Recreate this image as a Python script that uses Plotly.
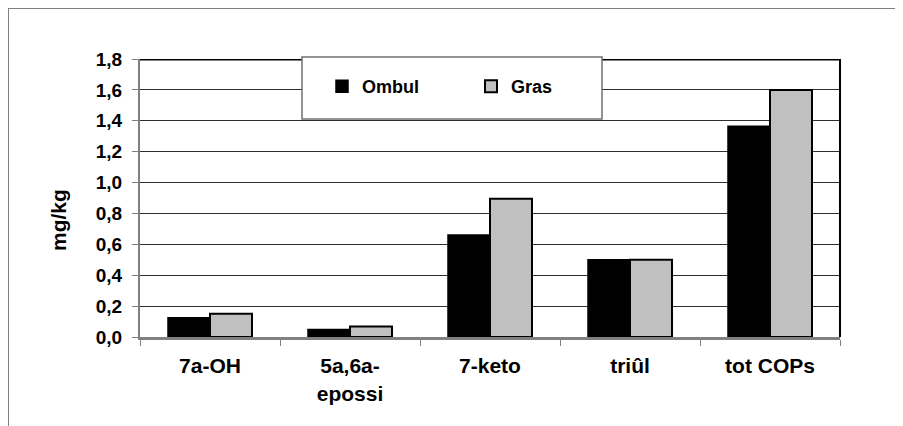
import plotly.graph_objects as go

categories = ["7a-OH", "5a,6a-<br>epossi", "7-keto", "triûl", "tot COPs"]
ombul = [0.124, 0.048, 0.66, 0.50, 1.365]
gras = [0.15, 0.068, 0.895, 0.50, 1.60]
y_ticks = [0.0, 0.2, 0.4, 0.6, 0.8, 1.0, 1.2, 1.4, 1.6, 1.8]

FONT = "Arial, Liberation Sans, sans-serif"

# page body has an 8px margin, so the figure is a bit smaller than the window
W, H = 895, 418
L, R, T, B = 132, 63, 51, 89
PW, PH = W - L - R, H - T - B


def px_x(x):
    return (x - L) / PW


def px_y(y):
    return (T + PH - y) / PH


fig = go.Figure()
fig.add_trace(go.Bar(x=categories, y=ombul, name="<b>Ombul</b>",
                     marker=dict(color="black", line=dict(color="black", width=1.5))))
fig.add_trace(go.Bar(x=categories, y=gras, name="<b>Gras</b>",
                     marker=dict(color="#c0c0c0", line=dict(color="black", width=2))))

shapes = [
    # outer frame
    dict(type="rect", xref="paper", yref="paper", x0=px_x(0), x1=px_x(W + 20),
         y0=px_y(H + 20), y1=px_y(0),
         line=dict(color="#808080", width=2), layer="below"),
    # right border of plot
    dict(type="line", xref="paper", yref="y", x0=1, x1=1, y0=0, y1=1.8,
         line=dict(color="black", width=2)),
    # thick top line
    dict(type="line", xref="paper", yref="y", x0=0, x1=1, y0=1.8, y1=1.8,
         line=dict(color="black", width=3)),
    # legend box
    dict(type="rect", xref="paper", yref="paper",
         x0=px_x(302 - 8), x1=px_x(602 - 8), y0=px_y(119 - 8), y1=px_y(57 - 8),
         fillcolor="white", line=dict(color="#707070", width=1.5), layer="above"),
]

fig.update_layout(
    width=W, height=H,
    margin=dict(l=L, r=R, t=T, b=B),
    paper_bgcolor="white", plot_bgcolor="white",
    font=dict(family=FONT, color="black"),
    separators=",.",
    barmode="group", bargap=0.4, bargroupgap=0,
    showlegend=True,
    legend=dict(orientation="h", x=px_x(322 - 8), y=px_y(68 - 8), xanchor="left", yanchor="top",
                bgcolor="rgba(0,0,0,0)", font=dict(size=18, family=FONT),
                entrywidth=104, traceorder="normal"),
    shapes=shapes,
    annotations=[dict(text="<b>mg/kg</b>", textangle=-90, xref="paper", yref="paper",
                      x=px_x(58 - 8), y=px_y(220 - 8), xanchor="center", yanchor="middle",
                      showarrow=False, font=dict(size=21, family=FONT))],
)
fig.update_yaxes(range=[0, 1.8], tickvals=y_ticks,
                 ticktext=["<b>" + f"{v:.1f}".replace(".", ",") + "</b>" for v in y_ticks],
                 showgrid=True, gridcolor="#303030", gridwidth=1,
                 showline=True, linecolor="#808080", linewidth=2,
                 ticks="outside", ticklen=6, tickcolor="#808080",
                 tickfont=dict(size=19, family=FONT), ticklabelstandoff=6,
                 zeroline=False)
fig.update_xaxes(tickvals=categories,
                 ticktext=["<b>" + c.replace("<br>", "</b><br><b>") + "</b>" for c in categories],
                 showline=True, linecolor="#808080", linewidth=3,
                 ticks="outside", tickson="boundaries", ticklen=6, tickcolor="#808080",
                 tickfont=dict(size=21, family=FONT), ticklabelstandoff=8, showgrid=False)

fig.write_html("out.html")
